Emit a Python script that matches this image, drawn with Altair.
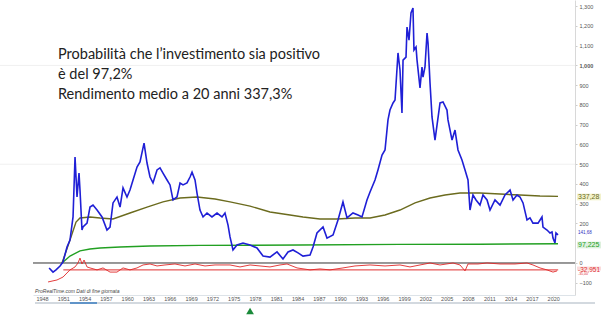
import altair as alt
import pandas as pd

# ---- data ----
blue_years = [1949.0, 1949.55, 1949.97, 1950.54, 1950.96, 1951.52, 1951.94, 1952.37, 1952.65, 1952.93,
              1953.21, 1953.35, 1953.63, 1953.77, 1954.34, 1954.76, 1955.18, 1955.75, 1956.45, 1957.15,
              1957.58, 1958.0, 1958.56, 1958.99, 1959.41, 1959.97, 1960.39, 1960.82, 1961.38, 1961.8,
              1962.37, 1962.79, 1963.21, 1963.63, 1964.2, 1964.62, 1965.04, 1965.61, 1966.03, 1966.45,
              1967.01, 1967.44, 1967.86, 1968.42, 1968.85, 1969.13, 1969.55, 1969.83, 1970.25, 1970.68,
              1971.24, 1971.94, 1972.65, 1973.35, 1973.77, 1974.2, 1974.48, 1974.9, 1975.46, 1976.31,
              1977.3, 1978.28, 1979.13, 1980.11, 1981.1, 1981.94, 1982.65, 1983.35, 1984.06, 1984.76,
              1985.75, 1986.17, 1986.73, 1987.58, 1988.14, 1988.99, 1989.69, 1990.39, 1990.96, 1991.8,
              1992.51, 1993.07, 1993.77, 1994.2, 1994.9, 1995.32, 1995.89, 1996.31, 1996.73, 1997.01,
              1997.44, 1997.72, 1998.14, 1998.42, 1998.7, 1998.85, 1999.27, 1999.41, 1999.69, 1999.97,
              2000.25, 2000.39, 2000.68, 2000.82, 2001.24, 2001.52, 2001.66, 2001.94, 2002.23, 2002.37,
              2002.65, 2002.93, 2003.35, 2004.06, 2004.48, 2005.04, 2005.18, 2005.75, 2006.17, 2006.59,
              2007.15, 2007.58, 2008.0, 2008.28, 2008.7, 2009.13, 2009.69, 2010.11, 2010.68, 2011.1,
              2011.8, 2012.51, 2013.21, 2013.92, 2014.34, 2014.9, 2015.32, 2015.75, 2016.31, 2016.73,
              2017.15, 2017.86, 2018.42, 2018.56, 2019.13, 2019.55, 2019.83, 2019.97, 2020.25, 2020.39,
              2020.68]
blue_values = [-25, -46, -35, -15, 5, 81, 116, 233, 536, 334,
               455, 369, 167, 182, 202, 283, 293, 268, 233, 167,
               182, 304, 334, 283, 380, 334, 369, 420, 486, 511,
               607, 506, 435, 405, 471, 481, 455, 420, 395, 319,
               334, 405, 395, 405, 435, 460, 420, 354, 268, 233,
               253, 233, 253, 233, 253, 192, 132, 66, 91, 101,
               91, 76, 35, 30, 56, 20, 56, 66, 51, 35,
               40, 81, 152, 182, 126, 142, 218, 309, 228, 253,
               243, 233, 319, 359, 420, 471, 546, 572, 724, 774,
               810, 825, 1063, 977, 759, 1027, 1042, 1194, 1128, 1265,
               1290, 1078, 1093, 1027, 886, 992, 941, 992, 1164, 1113,
               911, 739, 622, 810, 815, 774, 724, 622, 673, 572,
               521, 471, 420, 268, 344, 319, 293, 344, 319, 268,
               319, 293, 344, 369, 319, 344, 334, 304, 218, 228,
               202, 202, 233, 182, 167, 152, 157, 126, 101, 152,
               142]

olive_years = [1950.82, 1951.94, 1952.79, 1953.35, 1954.76, 1956.17, 1958.0, 1960.39, 1962.79, 1965.04,
               1967.44, 1969.83, 1972.37, 1974.48, 1977.3, 1980.11, 1982.93, 1984.76, 1987.15, 1989.55,
               1992.08, 1994.2, 1996.31, 1998.42, 2000.54, 2002.65, 2004.76, 2006.87, 2009.69, 2012.51,
               2015.32, 2018.14, 2020.68]
olive_values = [0, 116, 207, 228, 233, 228, 223, 253, 283, 309,
                329, 334, 324, 309, 288, 258, 243, 233, 223, 223,
                228, 228, 243, 268, 304, 329, 344, 354, 354, 349,
                344, 339, 337]

green_years = [1950.82, 1951.94, 1953.35, 1954.76, 1956.17, 1958.99, 1963.21, 1970.25, 1984.34, 1998.42,
               2009.69, 2020.68]
green_values = [0, 35, 61, 71, 76, 81, 86, 89, 91, 94, 95, 97.2]

red_years = [1948.85, 1950.11, 1950.96, 1951.94, 1952.65, 1953.07, 1953.35, 1953.63, 1953.92, 1954.34,
             1954.76, 1955.75, 1956.59, 1957.58, 1958.56, 1959.41, 1960.39, 1961.38, 1962.23, 1963.21,
             1964.2, 1965.32, 1966.73, 1968.14, 1969.55, 1970.96, 1972.37, 1974.48, 1975.89, 1977.3,
             1978.7, 1980.11, 1981.52, 1982.51, 1983.92, 1985.75, 1987.15, 1988.56, 1990.39, 1992.08,
             1994.2, 1996.31, 1998.42, 1999.83, 2001.24, 2002.65, 2004.06, 2005.89, 2006.87, 2007.58,
             2008.0, 2009.41, 2010.68, 2012.51, 2014.62, 2016.31, 2017.15, 2018.14, 2019.13, 2019.97,
             2020.54]
red_values = [-96, -86, -71, -35, -20, 0, 25, -5, 15, -20,
              -25, -35, -25, -46, -46, -25, -35, -25, -10, -5,
              -15, -10, -5, -15, -5, -15, -10, -10, -20, -10,
              -15, -20, -10, -5, -25, -35, -30, -35, -25, -15,
              -10, -15, -10, -20, -10, 0, -10, 0, -10, -40,
              -5, -5, 0, -5, -5, 0, -10, -25, -35, -46,
              -40]

red_level = -35
x_ticks = list(range(1948, 2021, 3))
y_ticks = [-100, 0, 200, 300, 400, 500, 600, 700, 800, 900, 1000, 1100, 1200, 1300]
grid_levels = [500, 1000]

annot_lines = ["Probabilità che l’investimento sia positivo",
               "è del 97,2%",
               "Rendimento medio a 20 anni 337,3%"]
annot_y = [55, 75, 95]

end_labels = ["337,28", "141,68", "97,225", "-32,951", "-35,00"]
end_values = [334, 152, 91, -35, -55]
end_colors = ["#6b6b1e", "#3030c0", "#22a022", "#e03030", "#e03030"]
end_bg = ["#f2f2cc", "#ffffff", "#ddf0dd", "#fadcdc", "#ffffff"]
end_sizes = [7, 4.5, 7, 6.5, 3.5]

# ---- scales ----
XD = [1946.73, 2023.07]
YD = [-162, 1331]
xs = alt.Scale(domain=XD, nice=False, zero=False)
ys = alt.Scale(domain=YD, nice=False, zero=False)

def X(field="year:Q"):
    return alt.X(field, scale=xs, axis=None)

def Y(field="v:Q"):
    return alt.Y(field, scale=ys, axis=None)

def series(years, vals):
    return pd.DataFrame({"year": years, "v": vals})

def line(df, color, width):
    return alt.Chart(df).mark_line(color=color, strokeWidth=width, interpolate="linear").encode(
        x=X(), y=Y())

# axes layer
axis_df = pd.DataFrame({"year": [XD[0], XD[1]], "v": [YD[0], YD[1]]})
axes = alt.Chart(axis_df).mark_point(opacity=0).encode(
    x=alt.X("year:Q", scale=xs,
            axis=alt.Axis(values=x_ticks, labelExpr="format(datum.value, 'd')", orient="bottom",
                          labelFontSize=5.5, labelColor="#555", domainColor="#dde3e8",
                          tickColor="#ccc", tickSize=1, labelPadding=0, grid=False, title=None,
                          labelFont="Liberation Sans")),
    y=alt.Y("v:Q", scale=ys,
            axis=alt.Axis(values=y_ticks, labelExpr="format(datum.value, ',.0f')", orient="right",
                          labelFontSize=5.5, labelColor="#555", domainColor="#d8d8d8",
                          tickColor="#ccc", tickSize=2, labelPadding=2, grid=False, title=None,
                          labelFont="Liberation Sans",
                          labelFontWeight=alt.ExprRef(expr="datum.value == 1000 ? 'bold' : 'normal'"))),
)

grid = alt.Chart(pd.DataFrame({"v": grid_levels})).mark_rule(color="#f0f0f0", strokeWidth=1).encode(
    y=Y(), x=alt.value(-33), x2=alt.value(542))

zero_rule = alt.Chart(pd.DataFrame({"v": [0]})).mark_rule(color="#333", strokeWidth=1).encode(
    y=Y(), x=alt.value(0), x2=alt.value(542))

red_flat = alt.Chart(pd.DataFrame({"year": [1951.0], "year2": [2020.7], "v": [red_level]})).mark_rule(
    color="#e03030", strokeWidth=1).encode(x=X(), x2="year2:Q", y=Y())

green_l = line(series(green_years, green_values), "#22a022", 1.4)
olive_l = line(series(olive_years, olive_values), "#6b6b1e", 1.4)
red_l = line(series(red_years, red_values), "#e02828", 0.9)
blue_l = line(series(blue_years, blue_values), "#1f1fd6", 1.6)

# end labels
lab_df = pd.DataFrame({"t": end_labels, "v": end_values, "c": end_colors, "bg": end_bg, "s": end_sizes,
                       "lo": [v - 17 for v in end_values], "hi": [v + 17 for v in end_values]})
lab_bg = alt.Chart(lab_df).mark_rect(opacity=1).encode(
    x=alt.value(544), x2=alt.value(568),
    y=Y("lo:Q"), y2="hi:Q",
    fill=alt.Fill("bg:N", scale=None))
lab_txt = alt.Chart(lab_df).mark_text(align="left", baseline="middle", font="Liberation Sans").encode(
    x=alt.value(545), y=Y(),
    text="t:N", color=alt.Color("c:N", scale=None), size=alt.Size("s:Q", scale=None))

# annotation text
ann_layers = [
    alt.Chart(pd.DataFrame({"t": [t]})).mark_text(align="left", baseline="middle", font="Lato",
                                                  fontSize=14.5, color="#222").encode(
        x=alt.value(25), y=alt.value(yy), text="t:N")
    for t, yy in zip(annot_lines, annot_y)
]

src = alt.Chart(pd.DataFrame({"t": ["ProRealTime.com  Dati di fine giornata"]})).mark_text(
    align="left", baseline="middle", fontSize=5, fontStyle="italic", color="#444",
    font="Liberation Sans").encode(x=alt.value(2), y=alt.value(291), text="t:N")

under = alt.Chart(pd.DataFrame({"a": [0]})).mark_rule(color="#c4ccd4", strokeWidth=1.5).encode(
    x=alt.value(2), x2=alt.value(562), y=alt.value(303))
under_hl = alt.Chart(pd.DataFrame({"year": [1951.94], "year2": [1955.75]})).mark_rule(
    color="#3a7cc0", strokeWidth=1.5).encode(x=X(), x2="year2:Q", y=alt.value(303))

tri = alt.Chart(pd.DataFrame({"year": [1977.3]})).mark_point(
    shape="triangle-up", filled=True, color="#1a8a3a", size=60, opacity=1).encode(
    x=X(), y=alt.value(311))

chart = alt.layer(
    axes, grid, zero_rule, red_flat, green_l, olive_l, red_l, blue_l,
    lab_bg, lab_txt, *ann_layers, src, under, under_hl, tri
).resolve_scale(x="independent", y="independent").properties(
    width=542, height=295,
    autosize=alt.AutoSizeParams(type="none"),
    padding={"left": 33, "right": 33, "top": 0, "bottom": 23},
    background="white",
).configure_view(stroke=None)

chart.save("out.html", embed_options={"renderer": "svg", "actions": False})
